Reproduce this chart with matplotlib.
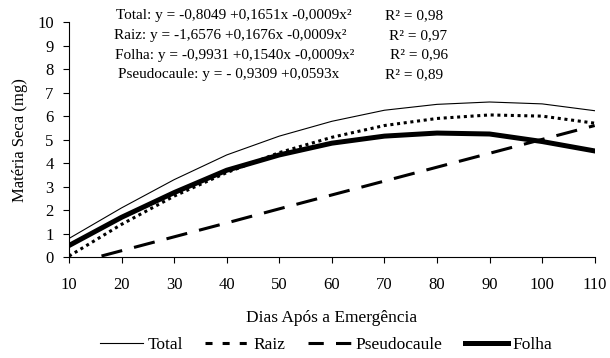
import numpy as np
import matplotlib
matplotlib.use("Agg")
import matplotlib.pyplot as plt
from matplotlib.lines import Line2D

plt.rcParams['font.family'] = ['Liberation Serif', 'DejaVu Serif']

dias = [10, 20, 30, 40, 50, 60, 70, 80, 90, 100, 110]
total = [0.8, 2.1, 3.3, 4.35, 5.15, 5.78, 6.25, 6.5, 6.6, 6.52, 6.23]
raiz = [0.05, 1.4, 2.6, 3.6, 4.45, 5.1, 5.6, 5.9, 6.05, 6.0, 5.7]
folha = [0.5, 1.7, 2.75, 3.7, 4.35, 4.85, 5.15, 5.28, 5.24, 4.92, 4.52]
pseudo = [-0.31, 0.28, 0.87, 1.46, 2.06, 2.65, 3.24, 3.83, 4.42, 5.01, 5.6]

eqs = ["Total: y = -0,8049 +0,1651x -0,0009x²",
       "Raiz: y = -1,6576 +0,1676x -0,0009x²",
       "Folha: y = -0,9931 +0,1540x -0,0009x²",
       "Pseudocaule: y = - 0,9309 +0,0593x"]
r2 = ["R² = 0,98", "R² = 0,97", "R² = 0,96", "R² = 0,89"]

W, H = 610, 358
fig = plt.figure(figsize=(6.1, 3.58), dpi=100)
ax = fig.add_axes([69 / W, 1 - 257.3 / H, 525.7 / W, 235.3 / H])

ax.plot(dias, total, color='black', lw=0.8)
ax.plot(dias, raiz, color='black', lw=2.2, ls=(0, (1, 1.2)))
ax.plot(dias, pseudo, color='black', lw=2.2, ls=(0, (7, 4)))
ax.plot(dias, folha, color='black', lw=3.6)

ax.set_xlim(10, 110)
ax.set_ylim(0, 10)
ax.set_xticks(range(10, 111, 10))
ax.set_yticks(range(0, 11))
ax.spines['top'].set_visible(False)
ax.spines['right'].set_visible(False)
ax.tick_params(labelsize=12, direction='out', length=4, width=0.8)
ax.tick_params(axis='x', pad=10)
ax.tick_params(axis='y', pad=7)
ax.set_xlabel('Dias Após a Emergência', fontsize=12.5)
ax.xaxis.set_label_coords(0.5, -(322 - 257.3) / 235.3)
ax.xaxis.label.set_va('baseline')
ax.set_ylabel('Matéria Seca (mg)', fontsize=12)
ax.yaxis.set_label_coords(-(69 - 28) / 525.7, 0.5)

ys = [19.5, 39, 58.5, 78]
xe = [116, 114, 115, 118]
xr = [385, 389, 390, 385]
for i in range(4):
    fig.text(xe[i] / W, 1 - ys[i] / H, eqs[i], fontsize=11, va='baseline')
    fig.text(xr[i] / W, 1 - ys[i] / H, r2[i], fontsize=11, va='baseline')

handles = [Line2D([], [], color='black', lw=0.8),
           Line2D([], [], color='black', lw=2.2, ls=(0, (2.3, 3.3))),
           Line2D([], [], color='black', lw=2.2, ls=(0, (5, 4))),
           Line2D([], [], color='black', lw=3.6)]
labels = ['Total', 'Raiz', 'Pseudocaule', 'Folha']
fig.legend(handles, labels, loc='center', bbox_to_anchor=(326 / W, 1 - 345 / H), ncol=4,
           frameon=False, fontsize=12.5, handlelength=2.5, columnspacing=1.3,
           handletextpad=0.25, borderpad=0)

fig.savefig('out.png', dpi=100)
